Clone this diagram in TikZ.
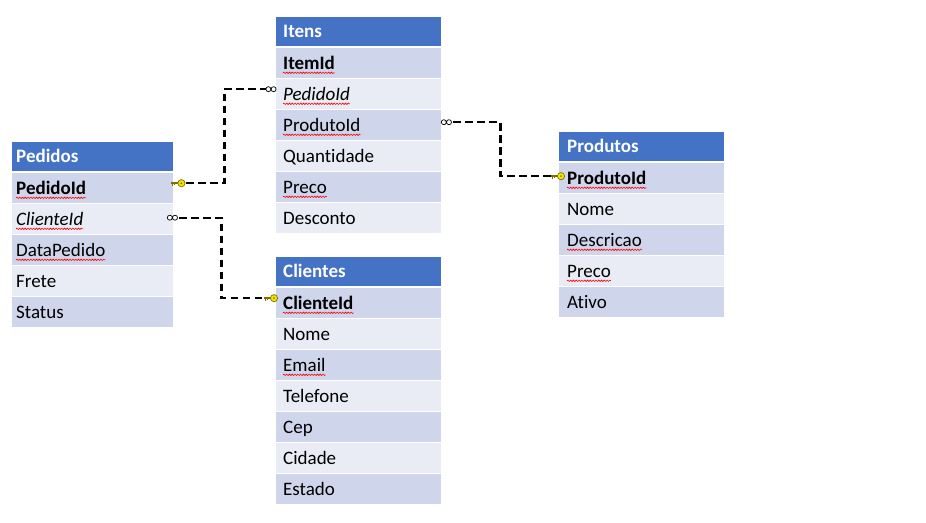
\documentclass[tikz,border=0pt]{standalone}
\usepackage{fontspec}
\setmainfont[Ligatures=NoCommon]{Carlito}
\usetikzlibrary{decorations.pathmorphing}
\definecolor{hdr}{HTML}{4472C4}
\definecolor{rdark}{HTML}{CFD5EA}
\definecolor{rlight}{HTML}{E9EBF5}
\definecolor{keyy}{HTML}{F2E600}
\definecolor{keyo}{HTML}{7F7000}
\tikzset{
 rowbox/.style={inner sep=0pt, minimum height=30pt, draw=none},
 hdrbox/.style={inner sep=0pt, minimum height=29pt, fill=hdr, draw=none},
 fldtext/.style={inner sep=0pt, anchor=west, text height=12.2pt, text depth=0pt, font=\fontsize{19}{22}\selectfont},
 spellline/.style={draw=red, line width=0.6pt, decorate, decoration={snake, amplitude=0.7pt, segment length=2.8pt}},
 rel/.style={line width=2.2pt, dash pattern=on 7.5pt off 4.5pt},
}
\newcommand{\thead}[6]{%
 \node[hdrbox,minimum width=#4,anchor=north west] (#1) at (#2,#3) {};
 \node[fldtext,text=white] (#1t) at ([xshift=#5]#1.west) {\bfseries #6};}
\newcommand{\trow}[7]{%
 \node[rowbox,fill=#5,minimum width=#4,anchor=north west] (#1) at (#2,#3) {};
 \node[fldtext] (#1t) at ([xshift=#6]#1.west) {#7};}
\newcommand{\spell}[1]{\draw[spellline] ([yshift=-3.5pt]#1t.base west) -- ([yshift=-3.5pt]#1t.base east);}
\newcommand{\keymark}[1]{%
 \fill[keyo] ([shift={(-10,-1)}]#1) rectangle ([shift={(-3,1)}]#1);
 \fill[keyo] ([shift={(-9.5,0)}]#1) rectangle ([shift={(-8.2,2.6)}]#1);
 \fill[keyo] ([shift={(-7.2,0)}]#1) rectangle ([shift={(-6,2.2)}]#1);
 \draw[keyo, fill=keyy, line width=0.7pt] (#1) circle (3.6);
 \fill[keyo] (#1) circle (1);}
\newcommand{\infmark}[1]{%
 \draw[black, fill=white, line width=0.7pt] ([xshift=-2.6pt]#1) circle (2.5) ([xshift=2.6pt]#1) circle (2.5);}
\begin{document}
\begin{tikzpicture}[x=1pt,y=-1pt]
\useasboundingbox (0,0) rectangle (926,522);
\fill[white] (0,0) rectangle (926,522);

% Pedidos
\thead{ph}{12}{142}{161}{4}{Pedidos}
\trow{pf1}{12}{173}{161}{rdark}{4}{\textbf{PedidoId}}
\trow{pf2}{12}{204}{161}{rlight}{4}{\textit{ClienteId}}
\trow{pf3}{12}{235}{161}{rdark}{4}{DataPedido}
\trow{pf4}{12}{266}{161}{rlight}{4}{Frete}
\trow{pf5}{12}{297}{161}{rdark}{4}{Status}
\spell{pf1}\spell{pf2}\spell{pf3}

% Itens
\thead{ih}{276}{17}{165}{7}{Itens}
\trow{if1}{276}{48}{165}{rdark}{7}{\textbf{ItemId}}
\trow{if2}{276}{79}{165}{rlight}{7}{\textit{PedidoId}}
\trow{if3}{276}{110}{165}{rdark}{7}{ProdutoId}
\trow{if4}{276}{141}{165}{rlight}{7}{Quantidade}
\trow{if5}{276}{172}{165}{rdark}{7}{Preco}
\trow{if6}{276}{203}{165}{rlight}{7}{Desconto}
\spell{if1}\spell{if2}\spell{if3}\spell{if5}

% Clientes
\thead{ch}{276}{257}{165}{7}{Clientes}
\trow{cf1}{276}{288}{165}{rdark}{7}{\textbf{ClienteId}}
\trow{cf2}{276}{319}{165}{rlight}{7}{Nome}
\trow{cf3}{276}{350}{165}{rdark}{7}{Email}
\trow{cf4}{276}{381}{165}{rlight}{7}{Telefone}
\trow{cf5}{276}{412}{165}{rdark}{7}{Cep}
\trow{cf6}{276}{443}{165}{rlight}{7}{Cidade}
\trow{cf7}{276}{474}{165}{rdark}{7}{Estado}
\spell{cf1}\spell{cf3}

% Produtos
\thead{rh}{559}{132}{165}{8}{Produtos}
\trow{rf1}{559}{163}{165}{rdark}{8}{\textbf{ProdutoId}}
\trow{rf2}{559}{194}{165}{rlight}{8}{Nome}
\trow{rf3}{559}{225}{165}{rdark}{8}{Descricao}
\trow{rf4}{559}{256}{165}{rlight}{8}{Preco}
\trow{rf5}{559}{287}{165}{rdark}{8}{Ativo}
\spell{rf1}\spell{rf3}\spell{rf4}

% connectors
\draw[rel] ([shift={(13,-5)}]pf1.east) -- ++(38,0) |- ([shift={(-10,-5)}]if2.west);
\draw[rel] ([shift={(6,-1.5)}]pf2.east) -- ++(42,0) |- ([shift={(-9,-5)}]cf1.west);
\draw[rel] ([shift={(12,-3)}]if3.east) -- ++(47,0) |- ([shift={(-7,-2)}]rf1.west);

% end markers
\coordinate (k1) at ([shift={(8,-5)}]pf1.east);
\coordinate (k2) at ([shift={(-2,-5)}]cf1.west);
\coordinate (k3) at ([shift={(2,-2)}]rf1.west);
\coordinate (m1) at ([shift={(-5,-5)}]if2.west);
\coordinate (m2) at ([shift={(-1,-1.5)}]pf2.east);
\coordinate (m3) at ([shift={(5,-3)}]if3.east);
\keymark{k1}\keymark{k2}\keymark{k3}
\infmark{m1}\infmark{m2}\infmark{m3}
\end{tikzpicture}
\end{document}
